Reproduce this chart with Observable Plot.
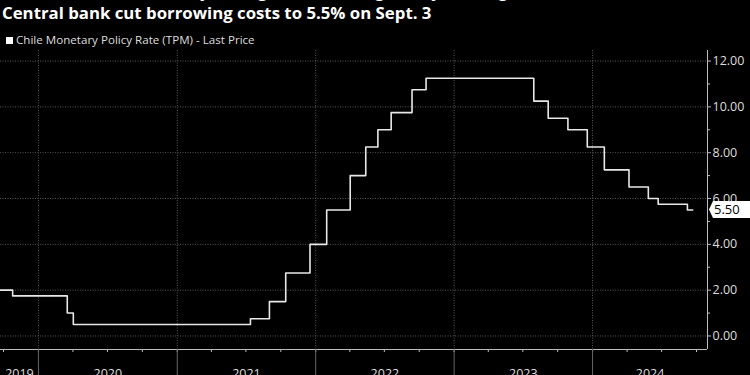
<!DOCTYPE html>
<html><head><meta charset="utf-8">
<script src="https://cdn.jsdelivr.net/npm/d3@7"></script>
<script src="https://cdn.jsdelivr.net/npm/@observablehq/plot@0.6"></script>
<style>
html,body{margin:0;padding:0;background:#000;overflow:hidden;width:750px;height:375px}
#t1{position:absolute;left:2px;top:-21px;font:bold 16.8px "Open Sans";color:#fff;white-space:nowrap}
#t2{position:absolute;left:2px;top:1px;font:bold 16.8px "Open Sans";color:#fff;white-space:nowrap}
#leg{position:absolute;left:6px;top:32px;font:11.6px "Open Sans";color:#ddd;white-space:nowrap}
#leg span.sw{display:inline-block;width:7px;height:7px;background:#fff;margin-right:3px;vertical-align:0px}
#chart{position:absolute;left:0;top:48px}
</style></head>
<body>
<div id="t1">Chile Resumes Monetary Easing After Pausing in July to Weigh Inflation</div>
<div id="t2">Central bank cut borrowing costs to 5.5% on Sept. 3</div>
<div id="leg"><span class="sw"></span>Chile Monetary Policy Rate (TPM) - Last Price</div>
<div id="chart"></div>
<script>
// Chile Monetary Policy Rate (TPM), step changes
const dates = ["2019-09-20","2019-10-25","2020-03-17","2020-04-02","2021-07-13","2021-09-01","2021-10-14","2021-12-17","2022-01-30","2022-04-02","2022-05-13","2022-06-14","2022-07-19","2022-09-12","2022-10-19","2023-07-30","2023-09-06","2023-10-28","2023-12-18","2024-02-01","2024-04-06","2024-05-27","2024-06-22","2024-09-07","2024-09-21"];
const rates = [2.0,1.75,1.0,0.5,0.75,1.5,2.75,4.0,5.5,7.0,8.25,9.0,9.75,10.75,11.25,10.25,9.5,9.0,8.25,7.25,6.5,6.0,5.75,5.5,5.5];
const yTicks = [0,2,4,6,8,10,12];
const yMinorTicks = [1,3,5,7,9,11];
const yearLabels = ["2019","2020","2021","2022","2023","2024"];
const xDomain = ["2019-09-23","2024-10-30"];
const yDomain = [-0.59, 12.46];

const data = dates.map((d,i)=>({date:new Date(d), rate:rates[i]}));
const d0 = new Date(xDomain[0]), d1 = new Date(xDomain[1]);
const yearStarts = yearLabels.slice(1).map(y=>new Date(Date.UTC(+y,0,1)));
const yearMids = yearLabels.map(y=>{
  const s = Math.max(Date.UTC(+y,0,1), +d0), e = Math.min(Date.UTC(+y+1,0,1), +d1);
  return new Date((s+e)/2);
});
const quarterTicks = d3.utcMonth.every(3).range(d0, d1);

const W = 750, H = 340, mR = 43;
const chart = Plot.plot({
  width: W, height: H,
  marginLeft: 0, marginRight: mR, marginTop: 2, marginBottom: 39,
  style: {background:"#000", color:"#ddd", fontFamily:"Open Sans", overflow:"visible"},
  x: {type:"utc", domain:[d0,d1], label:null},
  y: {domain: yDomain, label:null},
  marks: [
    Plot.gridY(yTicks, {stroke:"#5a5a5a", strokeOpacity:1, strokeDasharray:"1,1.5"}),
    Plot.gridX(yearStarts, {stroke:"#5a5a5a", strokeOpacity:1, strokeDasharray:"1,1.5"}),
    Plot.ruleY([yDomain[0]], {stroke:"#bdbdbd", strokeWidth:1}),
    Plot.ruleX([d1], {stroke:"#bdbdbd", strokeWidth:1}),
    Plot.axisX(quarterTicks, {anchor:"bottom", tickSize:3, tickFormat:()=>"", stroke:"#bdbdbd", label:null}),
    Plot.axisX(yearStarts, {anchor:"bottom", tickSize:30, tickFormat:()=>"", stroke:"#666", label:null}),
    Plot.axisX(yearMids, {anchor:"bottom", tickSize:0, tickPadding:20, tickFormat:d=>String(d.getUTCFullYear()), fontSize:12.5, fill:"#ddd", label:null}),
    Plot.axisY(yMinorTicks, {anchor:"right", tickSize:2, tickFormat:()=>"", stroke:"#bdbdbd", label:null}),
    Plot.axisY(yTicks, {anchor:"right", tickSize:3, tickPadding:2, tickFormat:d=>d.toFixed(2), fontSize:12.5, fill:"#ddd", stroke:"#bdbdbd", label:null}),
    Plot.line(data, {x:"date", y:"rate", curve:"step-after", stroke:"#e8e8e8", strokeWidth:1.6, clip:true})
  ]
});
document.getElementById("chart").appendChild(chart);

// last-value label, placed with the plot's own scales
const last = data[data.length-1];
const xs = chart.scale("x"), ys = chart.scale("y");
const ax = xs.apply(d1), ly = ys.apply(last.rate);
const svg = d3.select(chart);
svg.append("path")
  .attr("d", `M${ax+2},${ly} L${ax+6},${ly-8.5} L${W+5},${ly-8.5} L${W+5},${ly+8.5} L${ax+6},${ly+8.5} Z`)
  .attr("fill", "#fff");
svg.append("text")
  .attr("x", ax+7).attr("y", ly).attr("dy","0.36em")
  .attr("text-anchor","start")
  .attr("font-family","Open Sans").attr("font-size", 13)
  .attr("fill","#000").text(last.rate.toFixed(2));
</script>
</body></html>
